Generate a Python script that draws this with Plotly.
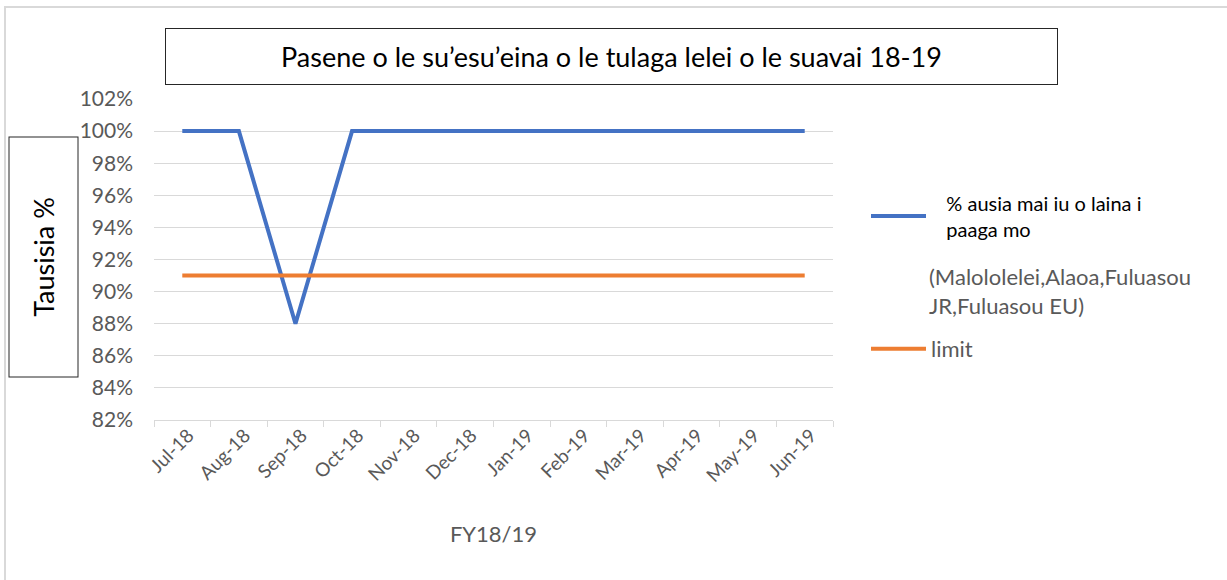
import plotly.graph_objects as go

months = ["Jul-18", "Aug-18", "Sep-18", "Oct-18", "Nov-18", "Dec-18",
          "Jan-19", "Feb-19", "Mar-19", "Apr-19", "May-19", "Jun-19"]
compliance = [1.00, 1.00, 0.88, 1.00, 1.00, 1.00, 1.00, 1.00, 1.00, 1.00, 1.00, 1.00]
limit = [0.91] * 12

title_text = "Pasene o le su’esu’eina o le tulaga lelei o le suavai 18-19"
ytitle_text = "Tausisia %"
xtitle_text = "FY18/19"
blue_name = "&nbsp;&nbsp;&nbsp;% ausia mai iu o laina i<br>&nbsp;&nbsp;&nbsp;paaga mo"
blue_note = "(Malololelei,Alaoa,Fuluasou<br>JR,Fuluasou EU)"
orange_name = "limit"

FONT = "Lato, Calibri, Carlito, sans-serif"
GRAY = "#595959"
GRID = "#D9D9D9"

# plot area in pixels
W, H = 1227, 580
L, R, T, B = 154, 833, 99, 420

def px(x):
    return (x - L) / (R - L)

def py(y):
    return (B - y) / (B - T)

fig = go.Figure()
fig.add_trace(go.Scatter(x=months, y=compliance, mode="lines", name=blue_name,
                         line=dict(color="#4472C4", width=4), legend="legend"))
fig.add_trace(go.Scatter(x=months, y=limit, mode="lines", name=orange_name,
                         line=dict(color="#ED7D31", width=4), legend="legend2"))

fig.update_layout(
    width=W, height=H,
    margin=dict(l=L, r=W - R, t=T, b=H - B),
    paper_bgcolor="white", plot_bgcolor="white",
    font=dict(family=FONT, color=GRAY),
    showlegend=True,
    legend=dict(x=px(866), xanchor="left", y=py(216), yanchor="middle",
                font=dict(size=20, color="black"), itemwidth=55,
                bgcolor="rgba(0,0,0,0)"),
    legend2=dict(x=px(866), xanchor="left", y=py(349), yanchor="middle",
                 font=dict(size=22, color=GRAY), itemwidth=55,
                 bgcolor="rgba(0,0,0,0)"),
    xaxis=dict(type="category", tickson="boundaries", ticks="outside", ticklen=6,
               range=[-0.5, 11.5],
               tickcolor=GRID, showline=True, linecolor=GRID, linewidth=1,
               showgrid=False, tickangle=-45, tickfont=dict(size=19, color=GRAY),
               ticklabelshift=6, ticklabelstandoff=-4,
               title=dict(text=xtitle_text, font=dict(size=22, color=GRAY), standoff=41)),
    yaxis=dict(range=[0.82, 1.02], dtick=0.02, tickformat=".0%", showgrid=True,
               gridcolor=GRID, gridwidth=1, zeroline=False, showline=False,
               ticks="", ticklabelstandoff=20, tickfont=dict(size=21, color=GRAY)),
)

annotations = [
    dict(text=title_text, xref="paper", yref="paper", x=px(611.5), y=py(56.5),
         xanchor="center", yanchor="middle", showarrow=False,
         font=dict(size=27, color="black", family=FONT),
         bordercolor="#262626", borderwidth=1, borderpad=0,
         width=891, height=55, bgcolor="white"),
    dict(text=ytitle_text, xref="paper", yref="paper", x=px(43), y=py(257.5),
         xanchor="center", yanchor="middle", showarrow=False, textangle=-90,
         font=dict(size=27, color="black", family=FONT),
         bordercolor="#262626", borderwidth=1, borderpad=0,
         width=239, height=68, bgcolor="white"),
    dict(text=blue_note, xref="paper", yref="paper", x=px(927), y=py(261),
         xanchor="left", yanchor="top", align="left", showarrow=False,
         font=dict(size=22, color=GRAY, family=FONT)),
]
fig.update_layout(annotations=annotations)

fig.add_shape(type="rect", xref="paper", yref="paper",
              x0=px(5), x1=px(1240), y0=py(600), y1=py(7),
              line=dict(color="#D9D9D9", width=2), layer="below")

fig.write_html("out.html", config={"displayModeBar": False},
               post_script="document.body.style.margin='0';document.body.style.overflow='hidden';")
